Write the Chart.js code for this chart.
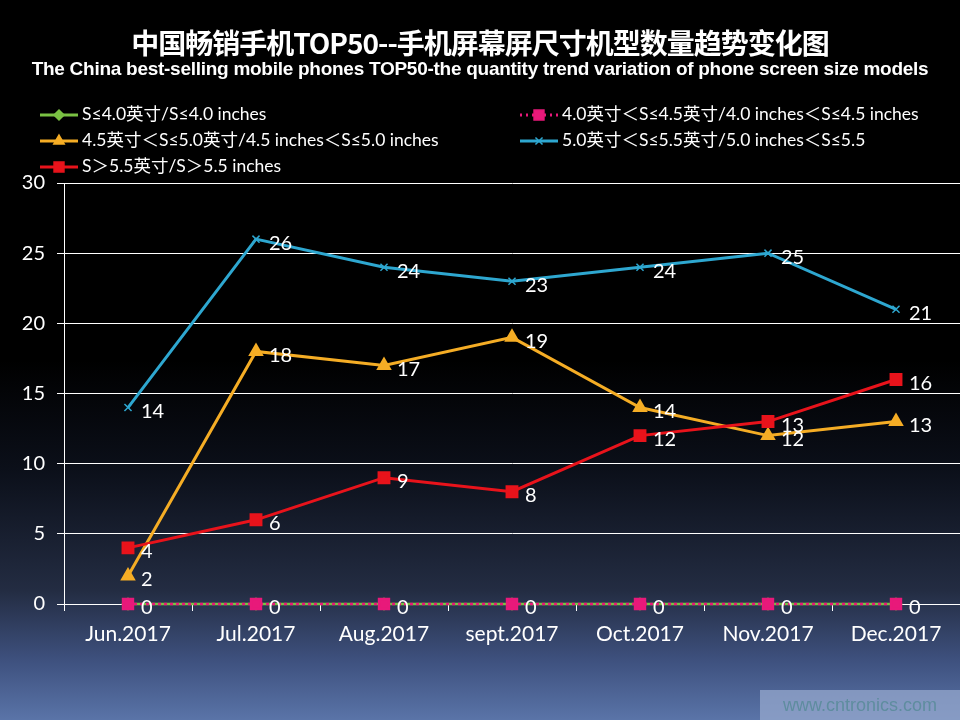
<!DOCTYPE html>
<html>
<head>
<meta charset="utf-8">
<script src="https://cdn.jsdelivr.net/npm/chart.js@4.4.1/dist/chart.umd.min.js"></script>
<style>
  html, body { margin: 0; padding: 0; }
  body {
    width: 960px; height: 720px; overflow: hidden; position: relative;
    background: linear-gradient(to bottom, #000 0%, #000 50%, #0b0f19 65%, #232c42 82%, #3f5280 92%, #5a74a8 100%);
    font-family: Lato, "Noto Sans CJK SC", sans-serif;
  }
  #wrap { position: absolute; left: 0; top: 0; width: 960px; height: 720px; }
  .title {
    position: absolute; left: 0; width: 960px; text-align: center; color: #fff; font-weight: bold; white-space: nowrap;
  }
  #t1 { top: 24px; font-size: 28px; line-height: 36px; font-family: "Noto Sans CJK SC", sans-serif; letter-spacing: -1px; }
  #t2 { top: 57px; font-size: 19px; line-height: 24px; font-family: "Liberation Sans", sans-serif; letter-spacing: -0.27px; }
  .leg { position: absolute; color: #fff; font-size: 17.5px; white-space: nowrap; height: 22px; line-height: 22px; }
  .leg canvas { vertical-align: middle; margin-right: 4px; position: relative; top: -1px; }
  #mark {
    position: absolute; left: 760px; top: 690px; width: 200px; height: 30px;
    background: rgba(150, 168, 205, 0.75); color: #5f8d9f; font-family: "Liberation Sans", Arial, sans-serif;
    font-size: 18px; line-height: 30px; text-align: center;
  }
</style>
</head>
<body>
<div id="wrap"><canvas id="c" width="960" height="720"></canvas></div>
<div class="title" id="t1">中国畅销手机TOP50--手机屏幕屏尺寸机型数量趋势变化图</div>
<div class="title" id="t2">The China best-selling mobile phones TOP50-the quantity trend variation of phone screen size models</div>
<div id="legend"></div>
<div id="mark">www.cntronics.com</div>
<script>
const months = ['Jun.2017', 'Jul.2017', 'Aug.2017', 'sept.2017', 'Oct.2017', 'Nov.2017', 'Dec.2017'];
const seriesNames = [
  'S≤4.0英寸/S≤4.0 inches',
  '4.0英寸＜S≤4.5英寸/4.0 inches＜S≤4.5 inches',
  '4.5英寸＜S≤5.0英寸/4.5 inches＜S≤5.0 inches',
  '5.0英寸＜S≤5.5英寸/5.0 inches＜S≤5.5',
  'S＞5.5英寸/S＞5.5 inches'
];
const under40 = [0, 0, 0, 0, 0, 0, 0];
const from40to45 = [0, 0, 0, 0, 0, 0, 0];
const from45to50 = [2, 18, 17, 19, 14, 12, 13];
const from50to55 = [14, 26, 24, 23, 24, 25, 21];
const over55 = [4, 6, 9, 8, 12, 13, 16];
const yTicks = [0, 5, 10, 15, 20, 25, 30];

const colors = ['#7ac143', '#e8197a', '#f5ad25', '#2ea7d0', '#e8131b'];
const styles = ['rectRot', 'rect', 'triangle', 'crossRot', 'rect'];
const radii = [5, 7, 6, 5, 7];

// legend slots: [left, top]
const legendPos = [[40, 103], [520, 103], [40, 129], [520, 129], [40, 155]];

const labelFont = '20px Lato, "Noto Sans CJK SC", sans-serif';

const valueLabels = {
  id: 'valueLabels',
  afterDatasetsDraw(chart) {
    const ctx = chart.ctx;
    ctx.save();
    ctx.font = labelFont;
    ctx.fillStyle = '#fff';
    ctx.textBaseline = 'middle';
    ctx.textAlign = 'left';
    chart.data.datasets.forEach((ds, i) => {
      if (!ds.showValues) return;
      const meta = chart.getDatasetMeta(i);
      meta.data.forEach((pt, j) => {
        ctx.fillText(String(ds.data[j]), pt.x + 13, pt.y + 4);
      });
    });
    ctx.restore();
  }
};

const datasets = [
  { label: seriesNames[0], data: under40, borderColor: colors[0], backgroundColor: colors[0],
    borderWidth: 2.5, pointStyle: styles[0], pointRadius: radii[0], order: 5 },
  { label: seriesNames[1], data: from40to45, borderColor: colors[1], backgroundColor: colors[1],
    borderWidth: 2.5, borderDash: [3, 3], pointStyle: styles[1], pointRadius: radii[1], order: 1, showValues: true },
  { label: seriesNames[2], data: from45to50, borderColor: colors[2], backgroundColor: colors[2],
    borderWidth: 3, pointStyle: styles[2], pointRadius: radii[2], order: 4, showValues: true },
  { label: seriesNames[3], data: from50to55, borderColor: colors[3], backgroundColor: colors[3],
    borderWidth: 3, pointStyle: styles[3], pointRadius: radii[3], pointBorderWidth: 1.5, order: 3, showValues: true },
  { label: seriesNames[4], data: over55, borderColor: colors[4], backgroundColor: colors[4],
    borderWidth: 3, pointStyle: styles[4], pointRadius: radii[4], order: 2, showValues: true }
];

new Chart(document.getElementById('c'), {
  type: 'line',
  data: { labels: months, datasets },
  plugins: [valueLabels],
  options: {
    responsive: false,
    animation: false,
    layout: { autoPadding: false, padding: { top: 183, right: 0, left: 0, bottom: 0 } },
    plugins: { legend: { display: false }, tooltip: { enabled: false }, title: { display: false } },
    elements: { line: { tension: 0 } },
    datasets: { line: { clip: false } },
    scales: {
      x: {
        offset: true,
        grid: { display: true, offset: true, drawOnChartArea: false, color: '#fff', tickLength: 7, tickWidth: 1 },
        border: { display: false },
        ticks: { color: '#fff', font: { size: 21, family: 'Lato' }, padding: 11, maxRotation: 0 },
        afterFit(scale) { scale.height = 116; scale.paddingLeft = 0; scale.paddingRight = 0; }
      },
      y: {
        min: 0, max: 30,
        afterBuildTicks(scale) { scale.ticks = yTicks.map(v => ({ value: v })); },
        grid: { color: '#fff', lineWidth: 1, tickLength: 7 },
        border: { display: true, color: '#fff', width: 1 },
        ticks: { color: '#fff', font: { size: 20, family: 'Lato' }, padding: 12 },
        afterFit(scale) { scale.width = 64; scale.paddingTop = 0; scale.paddingBottom = 0; }
      }
    }
  }
});

// html legend built from the datasets
const legendEl = document.getElementById('legend');
datasets.forEach((ds, i) => {
  const item = document.createElement('div');
  item.className = 'leg';
  item.style.left = legendPos[i][0] + 'px';
  item.style.top = legendPos[i][1] + 'px';
  const sw = document.createElement('canvas');
  sw.width = 38; sw.height = 16;
  const g = sw.getContext('2d');
  g.strokeStyle = ds.borderColor;
  g.lineWidth = 3;
  if (ds.borderDash) g.setLineDash([2, 4]);
  g.beginPath(); g.moveTo(0, 8); g.lineTo(38, 8); g.stroke();
  g.setLineDash([]);
  g.fillStyle = ds.backgroundColor;
  g.strokeStyle = ds.borderColor;
  g.lineWidth = 1.5;
  Chart.helpers.drawPoint(g, { pointStyle: ds.pointStyle, radius: radii[i], borderWidth: 1.5 }, 19, 8);
  item.appendChild(sw);
  item.appendChild(document.createTextNode(ds.label));
  legendEl.appendChild(item);
});
</script>
</body>
</html>
